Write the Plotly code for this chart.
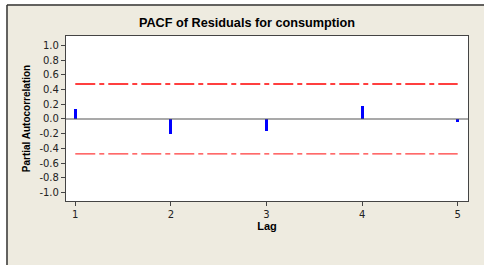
import plotly.graph_objects as go

lags = [1, 2, 3, 4, 5]
pacf_values = [0.14, -0.21, -0.16, 0.18, -0.035]
conf_limit = 0.474
y_tick_vals = [1.0, 0.8, 0.6, 0.4, 0.2, 0.0, -0.2, -0.4, -0.6, -0.8, -1.0]
y_tick_text = ["1.0", "0.8", "0.6", "0.4", "0.2", "0.0", "-0.2", "-0.4", "-0.6", "-0.8", "-1.0"]
x_tick_text = ["1", "2", "3", "4", "5"]

W, H = 484, 265
L, R, T, B = 66, 16, 36, 64
PW, PH = W - L - R, H - T - B


def px_x(p):
    return (p - L) / PW


def px_y(p):
    return (H - B - p) / PH


fig = go.Figure()
fig.add_trace(go.Bar(x=lags, y=pacf_values, width=0.032, marker=dict(color="#0000FF", line=dict(width=0)), showlegend=False))
for v, c in ((conf_limit, "#FF0000"), (-conf_limit, "#FF3A3A")):
    fig.add_trace(go.Scatter(x=[lags[0], lags[-1]], y=[v, v], mode="lines",
                             line=dict(color=c, width=1.4, dash="20px,4px,5px,4px"), showlegend=False))

fig.add_shape(type="line", xref="paper", yref="y", x0=0, x1=1, y0=0, y1=0, line=dict(color="#555555", width=1.2))
# white margins outside window frame
fig.add_shape(type="rect", xref="paper", yref="paper", x0=px_x(0), x1=px_x(6.3), y0=px_y(0), y1=px_y(H),
              fillcolor="#FFFFFF", line=dict(width=0), layer="above")
fig.add_shape(type="rect", xref="paper", yref="paper", x0=px_x(0), x1=px_x(W), y0=px_y(0), y1=px_y(4.3),
              fillcolor="#FFFFFF", line=dict(width=0), layer="above")
# window frame lines
fig.add_shape(type="line", xref="paper", yref="paper", x0=px_x(7), x1=px_x(7), y0=px_y(5), y1=px_y(H), line=dict(color="#333333", width=1.5))
fig.add_shape(type="line", xref="paper", yref="paper", x0=px_x(7), x1=px_x(W), y0=px_y(5), y1=px_y(5), line=dict(color="#333333", width=1.5))

font = "DejaVu Sans, Verdana, sans-serif"
fig.update_layout(
    width=W, height=H,
    margin=dict(l=L, r=R, t=T, b=B, autoexpand=False),
    paper_bgcolor="#EEEBE0", plot_bgcolor="#FFFFFF",
    title=dict(text="<b>PACF of Residuals for consumption</b>", xref="container", x=247 / W, xanchor="center",
               y=1 - 23 / H, yanchor="middle",
               font=dict(family="Liberation Sans, Arial, sans-serif", size=12.7, color="#000000")),
    bargap=0,
    font=dict(family=font, size=10, color="#222222"),
)
fig.update_xaxes(range=[0.903, 5.108], tickvals=lags, ticktext=x_tick_text, showgrid=False, zeroline=False,
                 showline=True, linecolor="#444444", linewidth=1.2, mirror=True, automargin=False,
                 ticks="outside", ticklen=4, tickcolor="#444444",
                 title=dict(text="<b>Lag</b>", font=dict(family="Liberation Sans, Arial, sans-serif", size=11, color="#000000"), standoff=0))
fig.update_yaxes(range=[-1.113, 1.126], tickvals=y_tick_vals, ticktext=y_tick_text, showgrid=False, zeroline=False,
                 showline=True, linecolor="#444444", linewidth=1.2, mirror=True, automargin=False,
                 ticks="outside", ticklen=4, tickcolor="#444444",
                 title=dict(text="<b>Partial Autocorrelation</b>", font=dict(family="Liberation Sans Narrow, Arial Narrow, Liberation Sans, sans-serif", size=10, color="#000000"), standoff=6))

fig.write_html("out.html", config={"displayModeBar": False},
               post_script="document.body.style.margin='0';document.body.style.padding='0';")
